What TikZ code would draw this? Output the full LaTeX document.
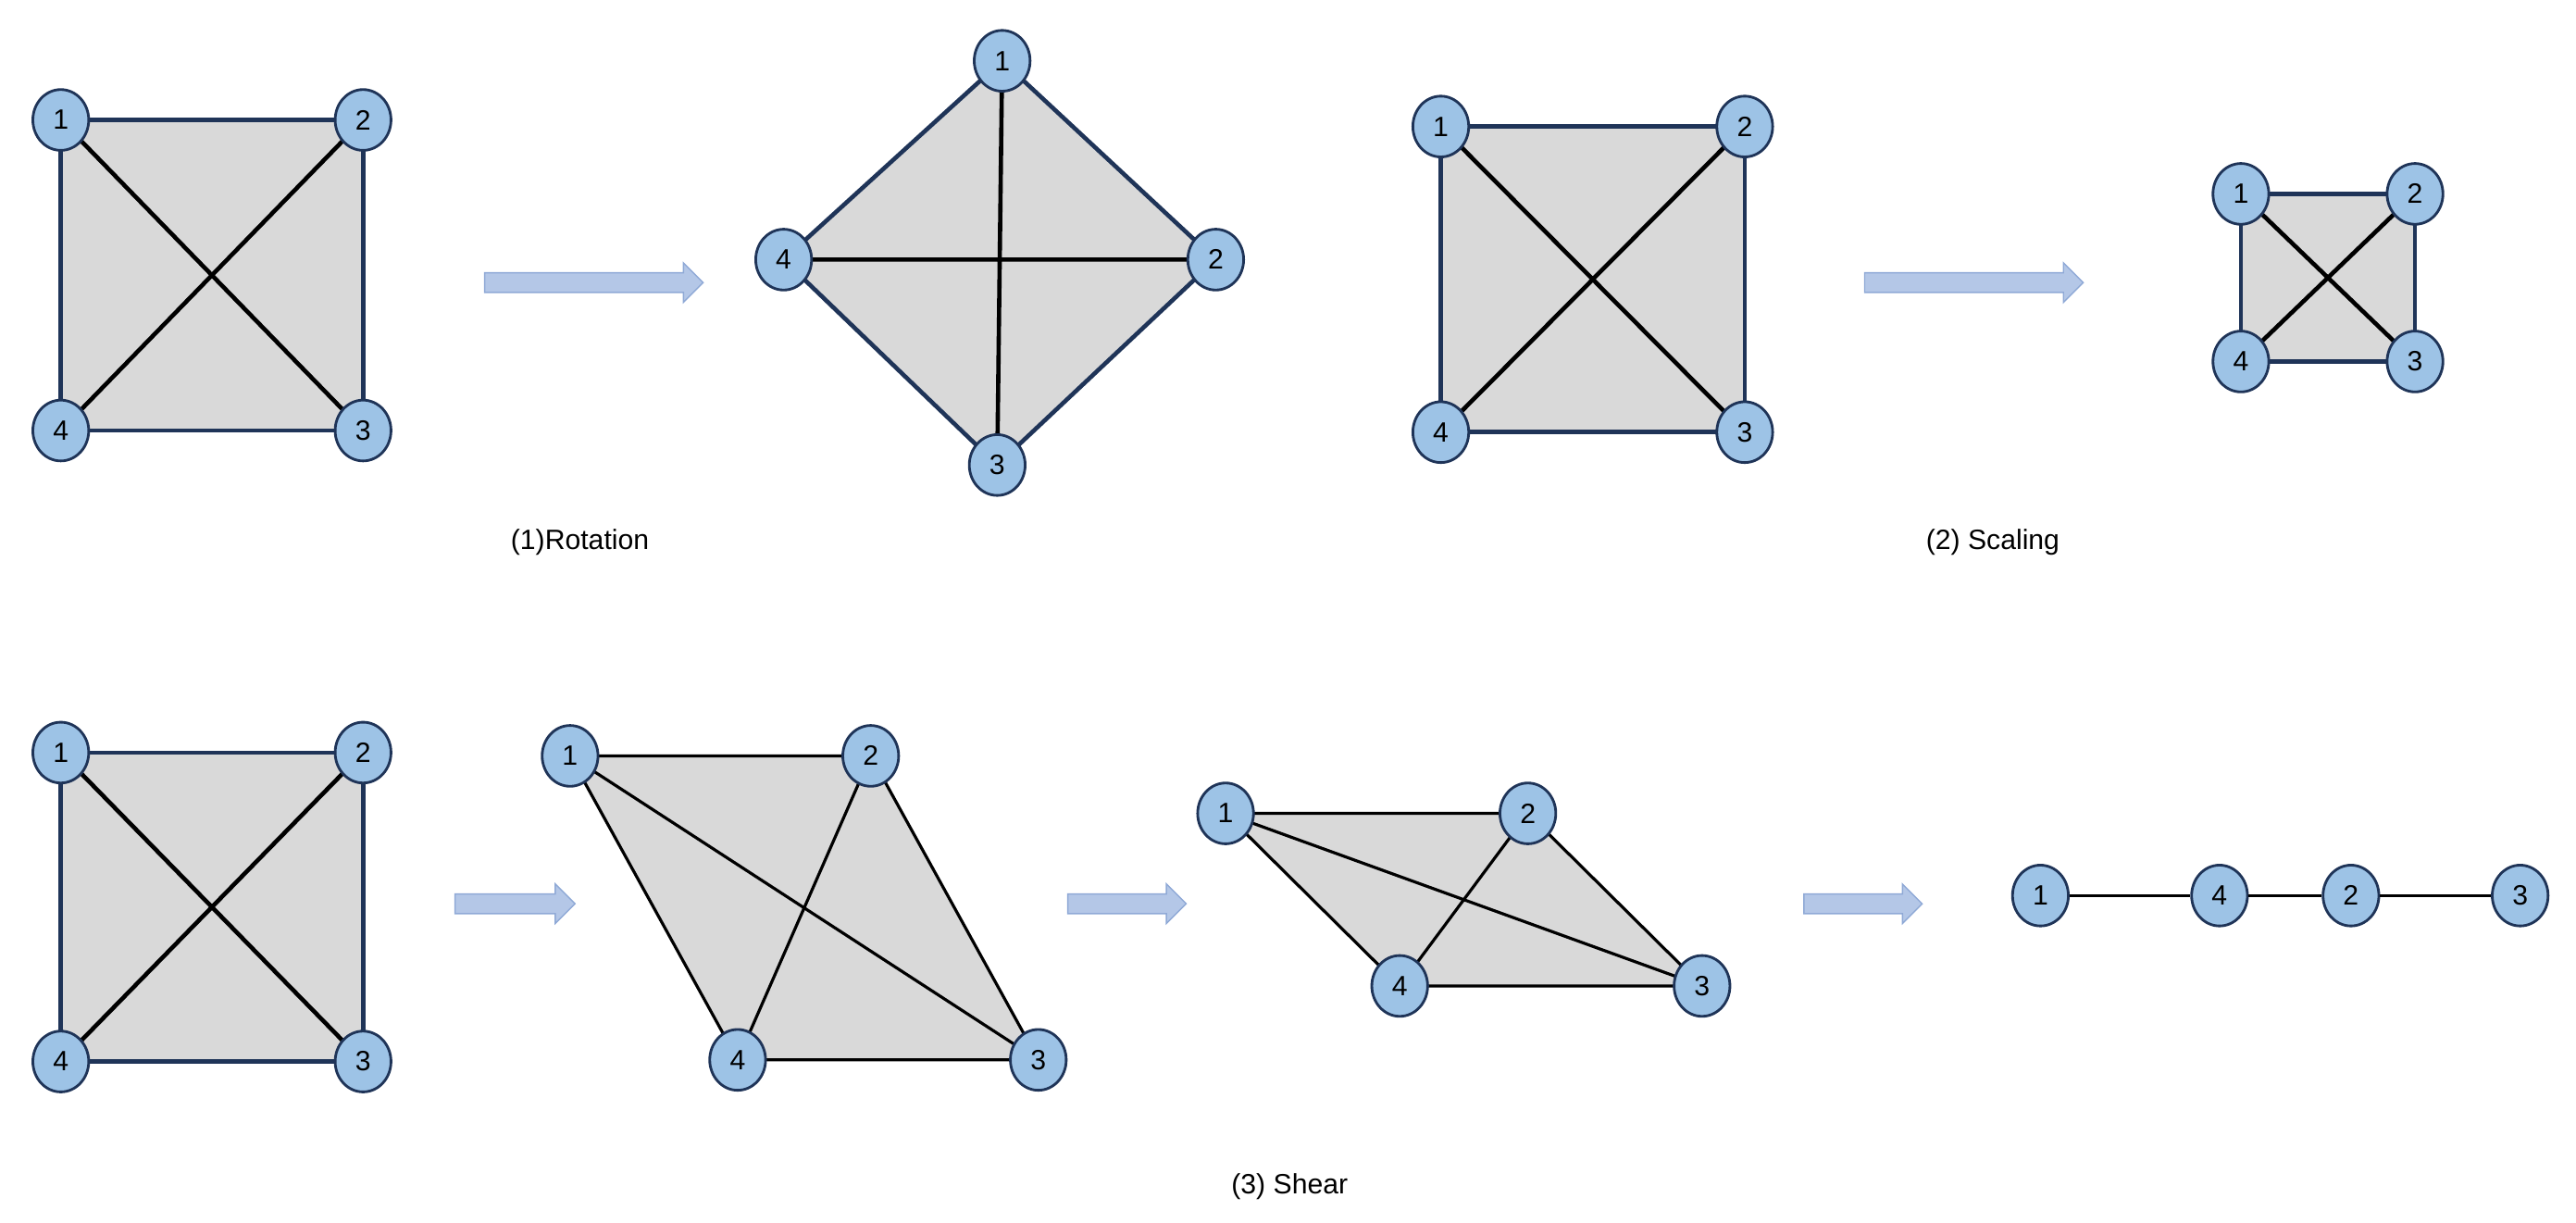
\documentclass[tikz,border=0pt]{standalone}
\usepackage{fontspec}
\setmainfont{Liberation Sans}
\usetikzlibrary{shapes.geometric}
\begin{document}
\begin{tikzpicture}[x=1pt,y=-1pt,
  vx/.style={ellipse,draw=navy,line width=1.6pt,fill=nodeblue,minimum width=34pt,minimum height=37pt,inner sep=0pt,font=\fontsize{17}{17}\selectfont},
  bord/.style={draw=navy,line width=2.6pt,fill=gray!30},
  thinb/.style={draw=black,line width=1.8pt,fill=gray!30},
  diag/.style={draw=black,line width=2.6pt},
  tdiag/.style={draw=black,line width=1.8pt},
  lab/.style={font=\fontsize{17}{17}\selectfont}]
\definecolor{navy}{HTML}{1F3458}
\definecolor{nodeblue}{HTML}{9DC3E6}
\definecolor{arrfill}{HTML}{B4C7E7}
\definecolor{arrdraw}{HTML}{8FA9D6}
\useasboundingbox (0,0) rectangle (1568,744);
\newcommand{\bigarr}[3]{% x1 x2 y
  \filldraw[fill=arrfill,draw=arrdraw,line width=0.8pt]
   (#1,#3-6) -- (#2-12,#3-6) -- (#2-12,#3-12) -- (#2,#3) -- (#2-12,#3+12) -- (#2-12,#3+6) -- (#1,#3+6) -- cycle;}
% square A
\coordinate (a1) at (37,73); \coordinate (a2) at (221,73); \coordinate (a3) at (221,262); \coordinate (a4) at (37,262);
\path[bord] (a1)--(a2)--(a3)--(a4)--cycle;
\draw[diag] (a1)--(a3) (a2)--(a4);
\foreach \i in {1,...,4} \node[vx] (na\i) at (a\i) {\i};
\bigarr{295}{428}{172}
% diamond
\coordinate (b1) at (610,37); \coordinate (b2) at (740,158); \coordinate (b3) at (607,283); \coordinate (b4) at (477,158);
\path[bord] (b1)--(b2)--(b3)--(b4)--cycle;
\draw[diag] (b1)--(b3) (b4)--(b2);
\foreach \i in {1,...,4} \node[vx] (nb\i) at (b\i) {\i};
\node[lab] (l1) at (353,330) {(1)Rotation};
% square B
\coordinate (c1) at (877,77); \coordinate (c2) at (1062,77); \coordinate (c3) at (1062,263); \coordinate (c4) at (877,263);
\path[bord] (c1)--(c2)--(c3)--(c4)--cycle;
\draw[diag] (c1)--(c3) (c2)--(c4);
\foreach \i in {1,...,4} \node[vx] (nc\i) at (c\i) {\i};
\bigarr{1135}{1268}{172}
% small square
\coordinate (d1) at (1364,118); \coordinate (d2) at (1470,118); \coordinate (d3) at (1470,220); \coordinate (d4) at (1364,220);
\path[bord] (d1)--(d2)--(d3)--(d4)--cycle;
\draw[diag] (d1)--(d3) (d2)--(d4);
\foreach \i in {1,...,4} \node[vx] (nd\i) at (d\i) {\i};
\node[lab] (l2) at (1213,330) {(2) Scaling};
% bottom square
\coordinate (e1) at (37,458); \coordinate (e2) at (221,458); \coordinate (e3) at (221,646); \coordinate (e4) at (37,646);
\path[bord] (e1)--(e2)--(e3)--(e4)--cycle;
\draw[diag] (e1)--(e3) (e2)--(e4);
\foreach \i in {1,...,4} \node[vx] (ne\i) at (e\i) {\i};
\bigarr{277}{350}{550}
% parallelogram
\coordinate (f1) at (347,460); \coordinate (f2) at (530,460); \coordinate (f3) at (632,645); \coordinate (f4) at (449,645);
\path[thinb] (f1)--(f2)--(f3)--(f4)--cycle;
\draw[tdiag] (f1)--(f3) (f2)--(f4);
\foreach \i in {1,...,4} \node[vx] (nf\i) at (f\i) {\i};
\bigarr{650}{722}{550}
% flatter
\coordinate (g1) at (746,495); \coordinate (g2) at (930,495); \coordinate (g3) at (1036,600); \coordinate (g4) at (852,600);
\path[thinb] (g1)--(g2)--(g3)--(g4)--cycle;
\draw[tdiag] (g1)--(g3) (g2)--(g4);
\foreach \i in {1,...,4} \node[vx] (ng\i) at (g\i) {\i};
\bigarr{1098}{1170}{550}
% line
\node[vx] (h1) at (1242,545) {1};
\node[vx] (h4) at (1351,545) {4};
\node[vx] (h2) at (1431,545) {2};
\node[vx] (h3) at (1534,545) {3};
\draw[tdiag] (h1)--(h4) (h4)--(h2) (h2)--(h3);
\node[lab] (l3) at (785,722) {(3) Shear};
\end{tikzpicture}
\end{document}
